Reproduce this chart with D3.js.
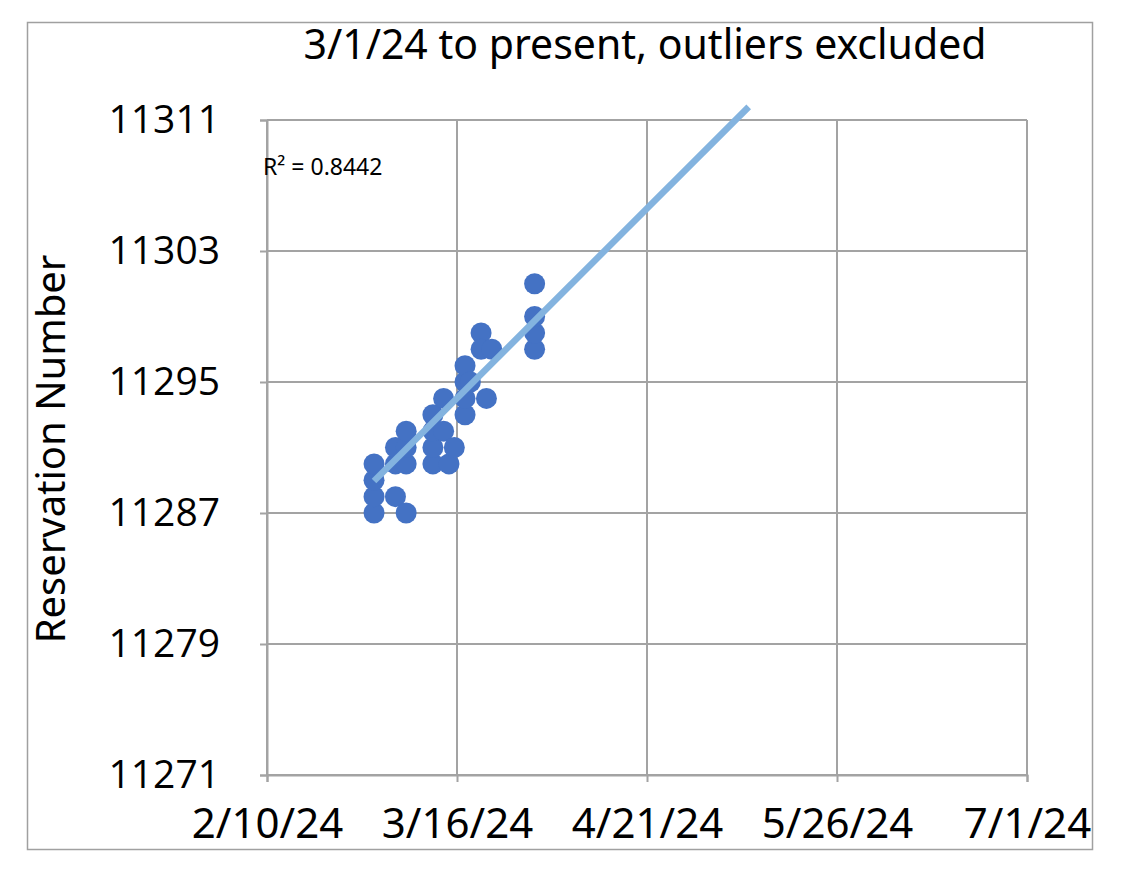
<!DOCTYPE html>
<html>
<head>
<meta charset="utf-8">
<script src="https://cdn.jsdelivr.net/npm/d3@7"></script>
<style>
  body { margin: 0; background: #fff; }
  svg { display: block; }
</style>
</head>
<body>
<div id="chart"></div>
<script>
// reservation numbers by date (outliers excluded)
var dates = ["3/1/24","3/1/24","3/1/24","3/1/24",
             "3/5/24","3/5/24","3/5/24",
             "3/7/24","3/7/24","3/7/24","3/7/24",
             "3/12/24","3/12/24","3/12/24","3/12/24",
             "3/14/24","3/14/24","3/15/24","3/16/24",
             "3/18/24","3/18/24","3/18/24","3/18/24","3/19/24",
             "3/21/24","3/21/24","3/22/24","3/23/24",
             "3/31/24","3/31/24","3/31/24","3/31/24"];
var reservations = [11287,11288,11289,11290,
                    11288,11290,11291,
                    11287,11290,11291,11292,
                    11290,11291,11292,11293,
                    11292,11294,11290,11291,
                    11293,11294,11295,11296,11295,
                    11298,11297,11294,11297,
                    11297,11298,11299,11301];
// linear trendline (Excel, forecast forward)
var trendDates = ["3/1/24", "5/10/24"];
var trendValues = [11288.95, 11311.8];
var yTicks = [11271, 11279, 11287, 11295, 11303, 11311];
var xStart = "2/10/24", xEnd = "7/1/24", xStepDays = 35.5;
var rSquared = "R² = 0.8442";

var W = 1134, H = 873;
var margin = {top: 120, right: 107, bottom: 98, left: 267},
    width = W - margin.left - margin.right,
    height = H - margin.top - margin.bottom;

var parse = d3.utcParse("%m/%d/%y");
var fmt = d3.utcFormat("%-m/%-d/%y");
var DAY = 864e5;
var narrow = "'Liberation Sans Narrow', 'Noto Sans', sans-serif";

var data = dates.map(function(d, i) { return {date: parse(d), value: reservations[i]}; });

var svg = d3.select("#chart").append("svg")
    .attr("width", W).attr("height", H);

// outer chart frame
svg.append("rect")
    .attr("x", 27.5).attr("y", 22.5)
    .attr("width", 1065).attr("height", 827)
    .attr("fill", "none").attr("stroke", "#a0a0a0").attr("stroke-width", 1.5);

var g = svg.append("g")
    .attr("transform", "translate(" + margin.left + "," + margin.top + ")");

var x = d3.scaleUtc()
    .domain([parse(xStart), parse(xEnd)])
    .range([0, width]);
var y = d3.scaleLinear()
    .domain([yTicks[0], yTicks[yTicks.length - 1]])
    .range([height, 0]);

var xTicks = d3.range(0, 5).map(function(k) { return new Date(+parse(xStart) + k * xStepDays * DAY); });

var gridColor = "#a3a3a3";

// gridlines
g.append("g").selectAll("line").data(yTicks).enter().append("line")
    .attr("x1", 0).attr("x2", width)
    .attr("y1", function(d) { return y(d); }).attr("y2", function(d) { return y(d); })
    .attr("stroke", gridColor).attr("stroke-width", 2);
g.append("g").selectAll("line").data(xTicks).enter().append("line")
    .attr("x1", function(d) { return x(d); }).attr("x2", function(d) { return x(d); })
    .attr("y1", 0).attr("y2", height)
    .attr("stroke", gridColor).attr("stroke-width", 2);

// X axis
var xAxis = g.append("g")
    .attr("transform", "translate(0," + height + ")")
    .call(d3.axisBottom(x).tickValues(xTicks).tickFormat(fmt).tickSize(7).tickPadding(26));
xAxis.select(".domain").attr("stroke", gridColor).attr("stroke-width", 2);
xAxis.selectAll(".tick line").attr("stroke", gridColor).attr("stroke-width", 2);
xAxis.selectAll("text")
    .attr("fill", "#000")
    .style("font-family", narrow)
    .style("font-size", "42px");

// Y axis
var yAxis = g.append("g")
    .call(d3.axisLeft(y).tickValues(yTicks).tickFormat(d3.format("d")).tickSize(7).tickPadding(40));
yAxis.select(".domain").attr("stroke", gridColor).attr("stroke-width", 2);
yAxis.selectAll(".tick line").attr("stroke", gridColor).attr("stroke-width", 2);
yAxis.selectAll("text")
    .attr("fill", "#000")
    .style("font-family", "'Open Sans', sans-serif")
    .style("font-size", "39px");

// Y label
svg.append("text")
    .attr("transform", "translate(65," + (margin.top + 329) + ") rotate(-90)")
    .attr("text-anchor", "middle")
    .style("font-family", narrow)
    .style("font-size", "40px")
    .text("Reservation Number");

// Title
svg.append("text")
    .attr("x", 645).attr("y", 59)
    .attr("text-anchor", "middle")
    .style("font-family", narrow)
    .style("font-size", "41px")
    .text("3/1/24 to present, outliers excluded");

// points
g.append("g").selectAll("circle").data(data).enter().append("circle")
    .attr("cx", function(d) { return x(d.date); })
    .attr("cy", function(d) { return y(d.value); })
    .attr("r", 10.5)
    .attr("fill", "#4472c4");

// trendline
g.append("line")
    .attr("x1", x(parse(trendDates[0]))).attr("y1", y(trendValues[0]))
    .attr("x2", x(parse(trendDates[1]))).attr("y2", y(trendValues[1]))
    .attr("stroke", "#83b3df").attr("stroke-width", 6.5);

// R squared label
g.append("text")
    .attr("x", -4).attr("y", 55)
    .style("font-family", narrow)
    .style("font-size", "23px")
    .text(rSquared);
</script>
</body>
</html>
